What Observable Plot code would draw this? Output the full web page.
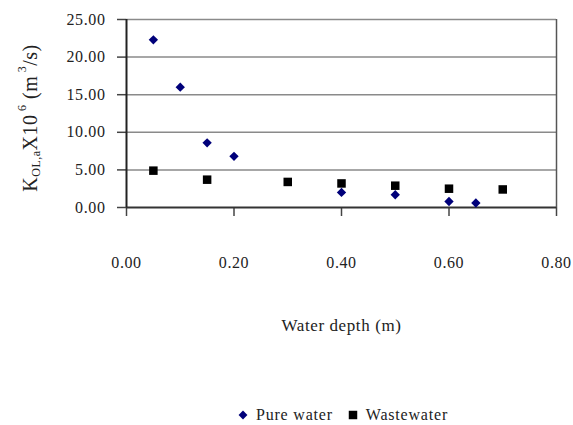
<!DOCTYPE html>
<html>
<head>
<meta charset="utf-8">
<script src="https://cdn.jsdelivr.net/npm/d3@7"></script>
<script src="https://cdn.jsdelivr.net/npm/@observablehq/plot@0.6"></script>
<style>
  html, body { margin: 0; padding: 0; background: #fff; }
  body { width: 573px; height: 425px; overflow: hidden; font-family: "Liberation Serif", "Times New Roman", serif; }
  #legend { display: flex; justify-content: center; align-items: center; height: 50px; font-size: 16px; letter-spacing: 0.8px; color: #222; padding-left: 112px; box-sizing: border-box; }
  #legend .item { display: flex; align-items: center; margin: 0 7px; }
  #legend svg { margin-right: 7px; }
</style>
</head>
<body>
<div id="chart"></div>
<div id="legend"></div>
<script>
// Mass-transfer coefficient vs. water depth
const pureDepth = [0.05, 0.10, 0.15, 0.20, 0.40, 0.50, 0.60, 0.65];
const pureK     = [22.3, 16.0, 8.6, 6.8, 2.0, 1.7, 0.8, 0.6];
const wasteDepth = [0.05, 0.15, 0.30, 0.40, 0.50, 0.60, 0.70];
const wasteK     = [4.9, 3.7, 3.4, 3.2, 2.9, 2.5, 2.4];

const xTicks = [0, 0.2, 0.4, 0.6, 0.8];
const yTicks = [0, 5, 10, 15, 20, 25];
const seriesNames = ["Pure water", "Wastewater"];
const xTitle = "Water depth (m)";

const pure = pureDepth.map((d, i) => ({depth: d, k: pureK[i]}));
const waste = wasteDepth.map((d, i) => ({depth: d, k: wasteK[i]}));
const fmt = d3.format(".2f");

const chart = Plot.plot({
  width: 573,
  height: 390,
  marginTop: 19,
  marginLeft: 126,
  marginRight: 17,
  marginBottom: 183,
  style: {fontFamily: "'Liberation Serif', 'Times New Roman', serif", fontSize: "16px", color: "#222"},
  x: {domain: [0, 0.8]},
  y: {domain: [0, 25]},
  marks: [
    Plot.ruleY(yTicks.filter(d => d > 0), {stroke: "#8a8a8a", strokeWidth: 1.5}),
    Plot.ruleX([0.8], {y1: 0, y2: 25, stroke: "#555", strokeWidth: 1.5}),
    Plot.axisX({ticks: xTicks, tickSize: 9, tickPadding: 40, tickFormat: fmt, label: null, stroke: "#444", strokeWidth: 1.5}),
    Plot.axisY({ticks: yTicks, tickSize: 9, tickPadding: 12, tickFormat: fmt, label: null, stroke: "#444", strokeWidth: 1.5}),
    Plot.ruleY([0], {stroke: "#333", strokeWidth: 2}),
    Plot.ruleX([0], {y1: 0, y2: 25, stroke: "#222", strokeWidth: 2}),
    Plot.dot(waste, {x: "depth", y: "k", symbol: "square", r: 4.8, fill: "#000", stroke: "none"}),
    Plot.dot(pure, {x: "depth", y: "k", symbol: "diamond2", r: 4.2, fill: "#00007a", stroke: "none"}),
    Plot.text([xTitle], {frameAnchor: "bottom", dy: 123, fontSize: 17, fill: "#222"})
  ]
});
document.getElementById("chart").appendChild(chart);

const svg = d3.select(chart);
svg.selectAll("text").attr("letter-spacing", "0.6px");

// Rotated y-axis title with subscript and superscripts
const yTitle = svg.append("text")
  .attr("transform", "translate(37,118) rotate(-90)")
  .attr("text-anchor", "middle")
  .attr("font-size", 20)
  .attr("letter-spacing", "0.5px")
  .attr("fill", "#222");
yTitle.append("tspan").text("K");
yTitle.append("tspan").attr("font-size", 12).attr("dy", 3).text("OL,a");
yTitle.append("tspan").attr("dy", -3).text("X10");
yTitle.append("tspan").attr("font-size", 12).attr("dy", -11).text(" 6");
yTitle.append("tspan").attr("dy", 11).text(" (m");
yTitle.append("tspan").attr("font-size", 12).attr("dy", -11).text(" 3");
yTitle.append("tspan").attr("dy", 11).text("/s)");

// Legend below the plot
const legend = d3.select("#legend");
const symbols = [
  {name: seriesNames[0], path: d3.symbol(d3.symbolDiamond2, 50)(), fill: "#00007a"},
  {name: seriesNames[1], path: d3.symbol(d3.symbolSquare, 72)(), fill: "#000"}
];
for (const s of symbols) {
  const item = legend.append("div").attr("class", "item");
  item.append("svg").attr("width", 12).attr("height", 12)
    .append("path").attr("transform", "translate(6,6)").attr("d", s.path).attr("fill", s.fill);
  item.append("span").text(s.name);
}
</script>
</body>
</html>
